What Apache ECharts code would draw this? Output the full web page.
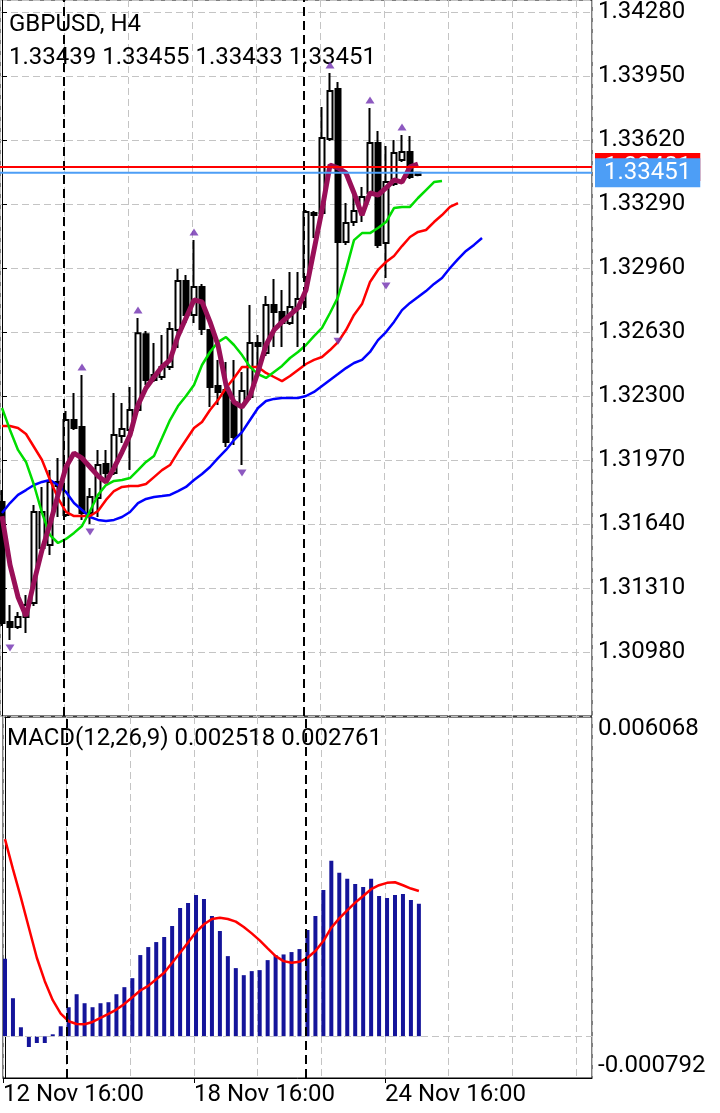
<!DOCTYPE html>
<html>
<head>
<meta charset="utf-8">
<script src="https://cdn.jsdelivr.net/npm/echarts@6/dist/echarts.min.js"></script>
<style>
html,body{margin:0;padding:0;background:#ffffff;}
#chart{width:720px;height:1113px;}
</style>
</head>
<body>
<div id="chart"></div>
<script>
// ---------- data ----------
const symbolTitle = 'GBPUSD, H4';
const macdTitle = 'MACD(12,26,9)';

const opens = [1.31753,1.31135,1.31109,1.31160,1.31233,1.31516,1.31532,1.31857,1.31686,1.32176,
  1.32140,1.31697,1.31774,1.31949,1.31903,1.32094,1.32125,1.32228,1.32619,1.32383,
  1.32398,1.32450,1.32640,1.32893,1.32718,1.32862,1.32640,1.32352,1.32331,1.32269,
  1.32254,1.32295,1.32573,1.32522,1.32769,1.32733,1.32676,1.32754,1.32914,1.33244,
  1.33244,1.33625,1.33883,1.33094,1.33197,1.33259,1.33347,1.33605,1.33089,1.33393,
  1.33517,1.33558,1.33439];
const highs = [1.31815,1.31222,1.31186,1.31274,1.31738,1.31831,1.31918,1.31980,1.32223,1.32315,
  1.32408,1.31826,1.32022,1.32022,1.32315,1.32264,1.32346,1.32702,1.32635,1.32573,
  1.32614,1.32682,1.32955,1.32924,1.33104,1.32878,1.32645,1.32486,1.32475,1.32486,
  1.32424,1.32769,1.32614,1.32816,1.32903,1.32847,1.32939,1.32939,1.33259,1.33254,
  1.33790,1.33965,1.33919,1.33295,1.33336,1.33378,1.33785,1.33666,1.33589,1.33620,
  1.33646,1.33641,1.33455];
const lows = [1.31114,1.31042,1.31099,1.31078,1.31217,1.31480,1.31480,1.31676,1.31676,1.32125,
  1.31661,1.31640,1.31676,1.31851,1.31893,1.32058,1.31918,1.32218,1.32357,1.32372,
  1.32383,1.32434,1.32547,1.32676,1.32676,1.32614,1.32243,1.32254,1.32037,1.32047,
  1.31944,1.32279,1.32434,1.32506,1.32553,1.32553,1.32666,1.32553,1.32754,1.33115,
  1.33228,1.33615,1.32624,1.33079,1.33177,1.33197,1.33336,1.33063,1.32908,1.33383,
  1.33507,1.33419,1.33433];
const closes = [1.31130,1.31109,1.31160,1.31222,1.31702,1.31702,1.31857,1.31836,1.32176,1.32135,
  1.31697,1.31779,1.31944,1.31903,1.32099,1.32130,1.32228,1.32624,1.32383,1.32408,
  1.32450,1.32645,1.32893,1.32718,1.32862,1.32645,1.32346,1.32321,1.32063,1.32089,
  1.32326,1.32573,1.32558,1.32769,1.32733,1.32676,1.32759,1.32800,1.33249,1.33233,
  1.33630,1.33873,1.33094,1.33192,1.33254,1.33326,1.33605,1.33079,1.33403,1.33553,
  1.33558,1.33429,1.33451];

// Alligator lines (they run past the last bar because they are shifted forward)
const lipsGreen = [1.32238,1.32125,1.32022,1.31960,1.31841,1.31697,1.31583,1.31542,1.31563,1.31594,
  1.31630,1.31707,1.31790,1.31841,1.31862,1.31867,1.31877,1.31918,1.31960,1.31991,
  1.32083,1.32176,1.32248,1.32300,1.32357,1.32460,1.32527,1.32578,1.32604,1.32563,
  1.32511,1.32450,1.32413,1.32393,1.32424,1.32455,1.32496,1.32527,1.32563,1.32609,
  1.32651,1.32728,1.32810,1.32950,1.33104,1.33140,1.33140,1.33166,1.33197,1.33269,
  1.33275,1.33275,1.33321,1.33362,1.33403,1.33409];
const teethRed = [1.32145,1.32145,1.32135,1.32104,1.32037,1.31970,1.31867,1.31774,1.31702,1.31681,
  1.31681,1.31681,1.31707,1.31764,1.31810,1.31831,1.31836,1.31836,1.31846,1.31882,
  1.31918,1.31944,1.32011,1.32073,1.32135,1.32166,1.32228,1.32279,1.32341,1.32393,
  1.32450,1.32450,1.32450,1.32419,1.32398,1.32377,1.32403,1.32434,1.32465,1.32486,
  1.32501,1.32537,1.32578,1.32640,1.32718,1.32774,1.32888,1.32950,1.32991,1.33022,
  1.33073,1.33120,1.33146,1.33156,1.33197,1.33233,1.33275,1.33295];
const jawBlue = [1.31697,1.31748,1.31790,1.31815,1.31841,1.31857,1.31867,1.31841,1.31805,1.31748,
  1.31712,1.31676,1.31661,1.31655,1.31661,1.31676,1.31702,1.31748,1.31769,1.31779,
  1.31784,1.31790,1.31810,1.31831,1.31867,1.31898,1.31934,1.31980,1.32022,1.32073,
  1.32114,1.32176,1.32238,1.32274,1.32285,1.32290,1.32290,1.32290,1.32300,1.32321,
  1.32352,1.32383,1.32413,1.32444,1.32470,1.32486,1.32527,1.32588,1.32630,1.32682,
  1.32743,1.32780,1.32810,1.32841,1.32878,1.32908,1.32960,1.33006,1.33048,1.33079,
  1.33115];
const fastMaPurple = [1.31681,1.31429,1.31264,1.31166,1.31341,1.31506,1.31640,1.31790,1.31934,1.32006,
  1.31980,1.31934,1.31888,1.31857,1.31929,1.32011,1.32099,1.32254,1.32341,1.32398,
  1.32450,1.32486,1.32609,1.32702,1.32795,1.32785,1.32682,1.32563,1.32357,1.32269,
  1.32243,1.32300,1.32424,1.32563,1.32640,1.32682,1.32718,1.32754,1.32847,1.33053,
  1.33259,1.33491,1.33476,1.33450,1.33347,1.33233,1.33347,1.33336,1.33373,1.33414,
  1.33403,1.33481,1.33496];

// Fractals (bar indices)
const fractalUpBars = [10, 17, 24, 41, 46, 50];
const fractalDownBars = [1, 11, 30, 42, 48];

// MACD(12,26,9)
const macdMain = [0.001474,0.000724,0.000172,-0.000203,-0.000127,-0.000127,0.000038,0.000191,0.000553,0.000800,
  0.000629,0.000553,0.000629,0.000648,0.000800,0.000934,0.001105,0.001544,0.001696,0.001791,
  0.001887,0.002096,0.002439,0.002534,0.002687,0.002611,0.002287,0.002001,0.001524,0.001296,
  0.001162,0.001239,0.001258,0.001448,0.001544,0.001556,0.001601,0.001658,0.002020,0.002287,
  0.002782,0.003335,0.003106,0.002992,0.002896,0.002839,0.002992,0.002668,0.002630,0.002687,
  0.002706,0.002592,0.002518];
const macdSignal = [0.003748,0.003176,0.002636,0.002064,0.001493,0.001048,0.000686,0.000432,0.000286,0.000235,
  0.000229,0.000273,0.000349,0.000426,0.000508,0.000616,0.000743,0.000870,0.000959,0.001086,
  0.001207,0.001397,0.001588,0.001785,0.001982,0.002128,0.002230,0.002255,0.002230,0.002179,
  0.002077,0.001956,0.001823,0.001671,0.001524,0.001429,0.001397,0.001416,0.001493,0.001620,
  0.001810,0.002064,0.002242,0.002395,0.002541,0.002668,0.002795,0.002871,0.002916,0.002928,
  0.002871,0.002808,0.002761];

const askPrice = 1.33481;
const periodSeparatorBars = [8, 38];
const timeLabelBars = [0, 24, 48];
const timeLabels = ['12 Nov 16:00', '18 Nov 16:00', '24 Nov 16:00'];
const priceMin = 1.30650, priceMax = 1.343419, priceStep = 0.0033;
const macdMin = -0.000792, macdMax = 0.006068;

// ---------- build ----------
const last = closes.length - 1;
const bidPrice = closes[last];
const FONT = 'Roboto';
const GRID_GRAY = '#c4c4c4';
const dashGray = {color: GRID_GRAY, width: 1, type: [7, 4]};
const barShift = 0.25;           // separators / time ticks sit a quarter bar left of the bar centre
const xMin = -0.25, xMax = 73.75;

const candleData = opens.map((o, i) => [i, o, closes[i], lows[i], highs[i]]);
const toLine = arr => arr.map((v, i) => [i, v]);

const sepLines = periodSeparatorBars.map(b => ({
  xAxis: b - barShift,
  lineStyle: {color: '#000', width: 2, type: [9, 5]},
  label: {show: false}
}));

const quoteText = [opens[last], highs[last], lows[last], closes[last]].map(v => v.toFixed(5)).join(' ');
const macdText = macdTitle + ' ' + macdMain[last].toFixed(6) + ' ' + macdSignal[last].toFixed(6);
const timeTickValues = timeLabelBars.map(b => b - barShift);

const priceLineSeries = (name, price, color, pad, z) => ({
  name, type: 'line', xAxisIndex: 0, yAxisIndex: 0,
  data: [[xMin, price], [xMax, price]], showSymbol: false, silent: true, z,
  lineStyle: {color, width: 2},
  endLabel: {show: true, distance: 3, formatter: price.toFixed(5), color: '#ffffff',
    backgroundColor: color, padding: pad, fontFamily: FONT, fontSize: 24},
  labelLayout: {hideOverlap: false}
});

const option = {
  animation: false,
  backgroundColor: '#ffffff',
  textStyle: {fontFamily: FONT},
  title: [
    {text: symbolTitle, left: 9, top: 13, padding: 0, textStyle: {fontFamily: FONT, fontSize: 24, fontWeight: 'normal', color: '#000'}},
    {text: quoteText, left: 9, top: 46, padding: 0, textStyle: {fontFamily: FONT, fontSize: 24, fontWeight: 'normal', color: '#000'}},
    {text: macdText, left: 7, top: 727, padding: 0, textStyle: {fontFamily: FONT, fontSize: 24, fontWeight: 'normal', color: '#000'}}
  ],
  grid: [
    {left: 0, top: 0, width: 592, height: 716, show: true, borderColor: '#000', borderWidth: 1, backgroundColor: 'transparent'},
    {left: 0, top: 717, width: 592, height: 361, show: true, borderColor: '#000', borderWidth: 1, backgroundColor: 'transparent'}
  ],
  xAxis: [
    {gridIndex: 0, type: 'value', min: xMin, max: xMax, interval: 8,
     axisLine: {show: false}, axisTick: {show: false}, axisLabel: {show: false},
     splitLine: {show: true, lineStyle: dashGray}},
    {gridIndex: 1, type: 'value', min: xMin, max: xMax, interval: 8, position: 'bottom',
     axisLine: {show: true, onZero: false, lineStyle: {color: '#000', width: 1}}, axisTick: {show: false}, axisLabel: {show: false},
     splitLine: {show: true, lineStyle: dashGray}},
    {gridIndex: 1, type: 'value', min: xMin, max: xMax, interval: 24, position: 'bottom',
     axisLine: {show: false, onZero: false},
     axisTick: {show: true, customValues: timeTickValues, length: 5, lineStyle: {color: '#000'}},
     axisLabel: {show: true, customValues: timeTickValues, align: 'left', margin: 5,
       fontFamily: FONT, fontSize: 24, color: '#000',
       formatter: v => {
         const i = timeTickValues.findIndex(t => Math.abs(t - v) < 1e-6);
         return i >= 0 ? timeLabels[i] : '';
       }},
     splitLine: {show: false}}
  ],
  yAxis: [
    {gridIndex: 0, type: 'value', position: 'right', min: priceMin, max: priceMax, interval: priceStep,
     axisLine: {show: true, lineStyle: {color: '#000', width: 1}},
     axisTick: {show: true, inside: false, length: 5, lineStyle: {color: '#000'}},
     axisLabel: {show: true, margin: 6, fontFamily: FONT, fontSize: 24, color: '#000',
       showMinLabel: false, showMaxLabel: false, formatter: v => v.toFixed(5)},
     splitLine: {show: true, lineStyle: dashGray}},
    {gridIndex: 1, type: 'value', position: 'right', min: macdMin, max: macdMax, interval: macdMax - macdMin,
     axisLine: {show: true, lineStyle: {color: '#000', width: 1}},
     axisTick: {show: true, inside: false, length: 5, lineStyle: {color: '#000'}},
     axisLabel: {show: true, margin: 6, fontFamily: FONT, fontSize: 24, color: '#000',
       verticalAlignMaxLabel: 'top', verticalAlignMinLabel: 'bottom',
       formatter: v => v.toFixed(6)},
     splitLine: {show: false}}
  ],
  series: [
    {
      name: 'price', type: 'candlestick', xAxisIndex: 0, yAxisIndex: 0,
      data: candleData, encode: {x: 0, y: [1, 2, 3, 4]},
      barWidth: 5,
      itemStyle: {color: '#ffffff', color0: '#000000', borderColor: '#000000', borderColor0: '#000000', borderWidth: 2},
      z: 3
    },
    {name: 'jaw', type: 'line', xAxisIndex: 0, yAxisIndex: 0, data: toLine(jawBlue), showSymbol: false,
     lineStyle: {color: '#0000ff', width: 2.5}, z: 4},
    {name: 'teeth', type: 'line', xAxisIndex: 0, yAxisIndex: 0, data: toLine(teethRed), showSymbol: false,
     lineStyle: {color: '#ff0000', width: 2.5}, z: 4},
    {name: 'lips', type: 'line', xAxisIndex: 0, yAxisIndex: 0, data: toLine(lipsGreen), showSymbol: false,
     lineStyle: {color: '#00dd00', width: 2.5}, z: 4},
    {name: 'ma', type: 'line', xAxisIndex: 0, yAxisIndex: 0, data: toLine(fastMaPurple), showSymbol: false,
     lineStyle: {color: '#990f58', width: 5}, z: 5,
     markLine: {silent: true, symbol: 'none', animation: false, data: sepLines}},
    priceLineSeries('ask', askPrice, '#ff0000', [1, 9, 3, 9], 6),
    priceLineSeries('bid', bidPrice, '#4d9ef6', [3, 9, 2, 9], 7),
    {name: 'fractalUp', type: 'scatter', xAxisIndex: 0, yAxisIndex: 0,
     data: fractalUpBars.map(b => [b, highs[b]]), symbol: 'triangle', symbolSize: [9, 7], symbolOffset: [0, -8],
     itemStyle: {color: '#7030b0'}, z: 8},
    {name: 'fractalDown', type: 'scatter', xAxisIndex: 0, yAxisIndex: 0,
     data: fractalDownBars.map(b => [b, lows[b]]), symbol: 'triangle', symbolRotate: 180, symbolSize: [9, 7], symbolOffset: [0, 8],
     itemStyle: {color: '#7030b0'}, z: 8},
    {name: 'macd', type: 'bar', xAxisIndex: 1, yAxisIndex: 1, data: toLine(macdMain), barWidth: 4,
     itemStyle: {color: '#14149a'}, z: 3,
     markLine: {silent: true, symbol: 'none', animation: false,
       data: [{yAxis: 0, lineStyle: dashGray, label: {show: false}}].concat(sepLines)}},
    {name: 'signal', type: 'line', xAxisIndex: 1, yAxisIndex: 1, data: toLine(macdSignal), showSymbol: false,
     lineStyle: {color: '#ff0000', width: 2.5}, z: 4}
  ]
};

const chart = echarts.init(document.getElementById('chart'), null, {renderer: 'canvas'});
chart.setOption(option);
</script>
</body>
</html>
